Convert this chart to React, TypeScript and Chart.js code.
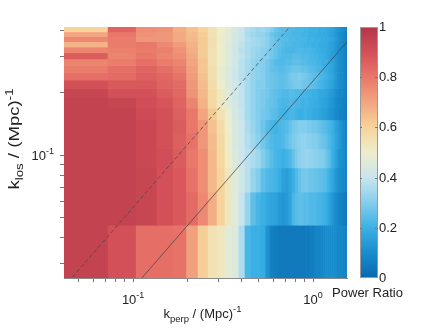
import React, { useEffect, useRef } from "react";
import { Chart, registerables } from "chart.js";

Chart.register(...registerables);

// k_perp bin edges (Mpc^-1), 48 bins
const kPerpEdges = [
  0.041, 0.0723, 0.1036, 0.1349, 0.1662, 0.1975, 0.2288, 0.2601, 0.2914, 0.3227,
  0.354, 0.3853, 0.4166, 0.4479, 0.4792, 0.5105, 0.5418, 0.5731, 0.6044, 0.6357,
  0.667, 0.6983, 0.7296, 0.7609, 0.7922, 0.8235, 0.8548, 0.8861, 0.9174, 0.9487,
  0.98, 1.0113, 1.0426, 1.0739, 1.1052, 1.1365, 1.1678, 1.1991, 1.2304, 1.2617,
  1.293, 1.3243, 1.3556, 1.3869, 1.4182, 1.4495, 1.4808, 1.5121, 1.5434,
];

// k_los bin edges (Mpc^-1), 19 bins
const kLosEdges = [
  0.0255, 0.046, 0.0665, 0.087, 0.1075, 0.128, 0.1485, 0.169, 0.1895, 0.21,
  0.2305, 0.251, 0.2715, 0.292, 0.3125, 0.333, 0.3535, 0.374, 0.3945, 0.415,
];

// power ratio per k_los bin (lowest first), one value per k_perp bin
const ratioRow00 = [0.95,0.9,0.82,0.82,0.81,0.71,0.61,0.55,0.53,0.47,0.45,0.36,0.22,0.2,0.2, 0.19,0.12,0.07,0.06,0.05,0.05,0.05,0.05,0.05,0.05,0.05,0.05,0.05,0.05,0.06,0.06,0.07,0.08,0.08,0.09,0.09,0.1,0.1,0.1,0.1,0.1,0.1,0.09,0.09,0.09,0.08,0.08,0.08];
const ratioRow01 = [0.95,0.95,0.94,0.9,0.88,0.83,0.76,0.68,0.6,0.53,0.46,0.4,0.33,0.25,0.22, 0.2,0.18,0.17,0.16,0.14,0.13,0.14,0.17,0.22,0.24,0.25,0.25,0.24,0.24,0.23,0.23,0.23,0.22,0.22,0.21,0.2,0.19,0.17,0.15,0.13,0.11,0.1,0.09,0.08,0.07,0.06,0.06,0.05];
const ratioRow02 = [0.95,0.95,0.94,0.9,0.88,0.81,0.75,0.66,0.6,0.53,0.46,0.42,0.38,0.33,0.3, 0.25,0.23,0.22,0.21,0.19,0.16,0.15,0.17,0.2,0.23,0.26,0.28,0.28,0.28,0.27,0.27,0.26,0.26,0.25,0.25,0.24,0.23,0.21,0.19,0.17,0.15,0.13,0.12,0.11,0.1,0.09,0.09,0.08];
const ratioRow03 = [0.95,0.95,0.93,0.91,0.87,0.8,0.75,0.66,0.59,0.51,0.45,0.41,0.38,0.36,0.34, 0.3,0.27,0.24,0.22,0.21,0.2,0.21,0.23,0.26,0.29,0.31,0.32,0.33,0.33,0.32,0.32,0.31,0.31,0.3,0.3,0.29,0.27,0.25,0.23,0.2,0.18,0.16,0.14,0.12,0.11,0.1,0.09,0.08];
const ratioRow04 = [0.95,0.95,0.93,0.9,0.86,0.81,0.73,0.65,0.58,0.51,0.44,0.41,0.37,0.34,0.31, 0.28,0.25,0.23,0.22,0.22,0.23,0.25,0.27,0.29,0.3,0.31,0.32,0.32,0.31,0.31,0.3,0.3,0.29,0.28,0.27,0.26,0.25,0.23,0.22,0.2,0.19,0.17,0.15,0.14,0.12,0.1,0.09,0.08];
const ratioRow05 = [0.95,0.95,0.93,0.9,0.87,0.8,0.73,0.64,0.57,0.5,0.44,0.41,0.36,0.33,0.3, 0.27,0.24,0.22,0.21,0.22,0.23,0.24,0.26,0.28,0.29,0.3,0.3,0.3,0.29,0.29,0.28,0.28,0.27,0.26,0.25,0.24,0.23,0.22,0.21,0.2,0.18,0.16,0.15,0.13,0.12,0.1,0.09,0.08];
const ratioRow06 = [0.95,0.95,0.92,0.9,0.86,0.8,0.7,0.62,0.55,0.49,0.43,0.4,0.35,0.32,0.3, 0.28,0.27,0.25,0.24,0.22,0.21,0.21,0.22,0.22,0.21,0.2,0.2,0.21,0.2,0.2,0.19,0.18,0.18,0.17,0.16,0.15,0.14,0.13,0.12,0.11,0.1,0.09,0.09,0.08,0.07,0.07,0.06,0.06];
const ratioRow07 = [0.95,0.94,0.91,0.89,0.85,0.77,0.67,0.58,0.52,0.46,0.43,0.39,0.35,0.32,0.3, 0.29,0.27,0.26,0.25,0.23,0.22,0.22,0.23,0.23,0.22,0.22,0.21,0.21,0.21,0.2,0.2,0.19,0.19,0.18,0.17,0.16,0.15,0.14,0.13,0.12,0.11,0.1,0.09,0.09,0.08,0.07,0.07,0.06];
const ratioRow08 = [0.94,0.9,0.9,0.87,0.84,0.74,0.66,0.58,0.52,0.46,0.42,0.39,0.35,0.32,0.3, 0.29,0.28,0.26,0.25,0.24,0.23,0.23,0.24,0.24,0.23,0.23,0.22,0.22,0.21,0.21,0.2,0.2,0.19,0.18,0.18,0.17,0.16,0.15,0.14,0.13,0.12,0.11,0.1,0.09,0.09,0.08,0.07,0.07];
const ratioRow09 = [0.9,0.88,0.88,0.85,0.83,0.73,0.65,0.57,0.5,0.45,0.42,0.39,0.35,0.32,0.3, 0.3,0.28,0.27,0.26,0.25,0.25,0.26,0.27,0.28,0.29,0.29,0.28,0.27,0.27,0.26,0.25,0.24,0.23,0.22,0.21,0.2,0.19,0.18,0.17,0.16,0.14,0.13,0.12,0.11,0.1,0.09,0.08,0.07];
const ratioRow10 = [0.82,0.83,0.86,0.84,0.81,0.72,0.64,0.56,0.49,0.45,0.41,0.38,0.35,0.33,0.31, 0.3,0.28,0.27,0.26,0.25,0.25,0.26,0.28,0.29,0.29,0.3,0.29,0.28,0.27,0.26,0.25,0.25,0.24,0.23,0.22,0.21,0.2,0.19,0.18,0.17,0.15,0.14,0.12,0.11,0.1,0.09,0.08,0.07];
const ratioRow11 = [0.79,0.82,0.85,0.82,0.79,0.71,0.63,0.56,0.49,0.45,0.41,0.38,0.35,0.33,0.31, 0.3,0.28,0.26,0.25,0.24,0.24,0.25,0.26,0.27,0.27,0.27,0.26,0.26,0.25,0.24,0.24,0.23,0.22,0.22,0.21,0.2,0.19,0.18,0.17,0.16,0.14,0.13,0.12,0.11,0.1,0.09,0.08,0.07];
const ratioRow12 = [0.77,0.79,0.82,0.79,0.77,0.7,0.63,0.55,0.5,0.46,0.42,0.38,0.35,0.33,0.31, 0.3,0.28,0.26,0.24,0.23,0.23,0.24,0.24,0.25,0.25,0.25,0.24,0.24,0.23,0.23,0.22,0.22,0.21,0.21,0.2,0.19,0.19,0.18,0.17,0.16,0.15,0.13,0.12,0.11,0.1,0.09,0.08,0.07];
const ratioRow13 = [0.87,0.77,0.8,0.77,0.75,0.69,0.62,0.55,0.5,0.46,0.42,0.39,0.36,0.34,0.32, 0.31,0.3,0.28,0.26,0.24,0.23,0.23,0.23,0.24,0.24,0.24,0.23,0.23,0.23,0.22,0.22,0.21,0.21,0.2,0.2,0.19,0.18,0.17,0.16,0.15,0.14,0.13,0.12,0.11,0.1,0.09,0.08,0.07];
const ratioRow14 = [0.77,0.78,0.79,0.78,0.74,0.68,0.62,0.55,0.5,0.46,0.42,0.38,0.36,0.34,0.33, 0.31,0.3,0.28,0.26,0.24,0.23,0.22,0.22,0.22,0.23,0.23,0.23,0.22,0.22,0.22,0.21,0.21,0.2,0.2,0.19,0.19,0.18,0.17,0.16,0.15,0.14,0.13,0.12,0.11,0.1,0.09,0.08,0.07];
const ratioRow15 = [0.67,0.79,0.8,0.76,0.72,0.67,0.62,0.56,0.5,0.46,0.42,0.39,0.36,0.35,0.34, 0.33,0.31,0.28,0.26,0.25,0.24,0.23,0.23,0.22,0.22,0.22,0.22,0.21,0.21,0.21,0.2,0.2,0.2,0.19,0.19,0.18,0.18,0.17,0.16,0.15,0.14,0.13,0.12,0.11,0.1,0.09,0.08,0.07];
const ratioRow16 = [0.76,0.79,0.73,0.73,0.69,0.66,0.62,0.56,0.51,0.47,0.43,0.4,0.37,0.35,0.34, 0.33,0.31,0.28,0.26,0.25,0.24,0.24,0.23,0.23,0.22,0.22,0.22,0.22,0.21,0.21,0.21,0.2,0.2,0.2,0.19,0.19,0.18,0.18,0.17,0.16,0.15,0.14,0.13,0.12,0.1,0.09,0.08,0.07];
const ratioRow17 = [0.7,0.8,0.74,0.73,0.69,0.65,0.61,0.55,0.5,0.47,0.43,0.4,0.36,0.34,0.33, 0.32,0.3,0.27,0.25,0.24,0.24,0.23,0.23,0.22,0.22,0.22,0.21,0.21,0.21,0.2,0.2,0.2,0.19,0.19,0.19,0.18,0.18,0.17,0.16,0.15,0.14,0.13,0.12,0.11,0.1,0.09,0.08,0.07];
const ratioRow18 = [0.6,0.85,0.75,0.74,0.68,0.64,0.6,0.55,0.5,0.47,0.44,0.41,0.37,0.35,0.33, 0.34,0.32,0.3,0.27,0.25,0.24,0.24,0.23,0.23,0.22,0.22,0.22,0.21,0.21,0.2,0.2,0.2,0.2,0.19,0.19,0.19,0.18,0.18,0.17,0.16,0.15,0.14,0.13,0.12,0.11,0.1,0.09,0.08];

const powerRatio = [
  ratioRow00, ratioRow01, ratioRow02, ratioRow03, ratioRow04, ratioRow05, ratioRow06,
  ratioRow07, ratioRow08, ratioRow09, ratioRow10, ratioRow11, ratioRow12, ratioRow13,
  ratioRow14, ratioRow15, ratioRow16, ratioRow17, ratioRow18,
];

// axis ranges and ticks
const xRange = [0.0413, 1.5434];
const yRange = [0.0255, 0.415];
const xTickValues = [0.05, 0.06, 0.07, 0.08, 0.09, 0.1, 0.2, 0.3, 0.4, 0.5, 0.6, 0.7, 0.8, 0.9, 1];
const yTickValues = [0.03, 0.04, 0.05, 0.06, 0.07, 0.08, 0.09, 0.1, 0.2, 0.3, 0.4];
const xLabelValues = [0.1, 1];
const xLabelExps = ["-1", "0"];
const yLabelValues = [0.1];
const yLabelExps = ["-1"];
const cbTickValues = [0, 0.2, 0.4, 0.6, 0.8, 1];
const cbTickLabels = ["0", "0.2", "0.4", "0.6", "0.8", "1"];

// wedge / horizon lines (k_perp, k_los end points)
const solidLineKPerp = [0.0413, 1.5434];
const solidLineKLos = [0.00942, 0.3519];
const dashedLineKPerp = [0.0413, 1.5434];
const dashedLineKLos = [0.0231, 0.8643];

// colormap stops (style)
const COLOR_STOPS: [number, number[]][] = [
  [0.0, [10, 104, 174]],
  [0.1, [24, 140, 204]],
  [0.2, [58, 176, 228]],
  [0.3, [132, 206, 237]],
  [0.4, [200, 229, 238]],
  [0.5, [237, 237, 204]],
  [0.6, [246, 212, 155]],
  [0.7, [242, 165, 127]],
  [0.8, [233, 119, 106]],
  [0.9, [212, 80, 88]],
  [1.0, [178, 54, 74]],
];

function ratioColor(v: number): string {
  const t = Math.max(0, Math.min(1, v));
  for (let k = 0; k < COLOR_STOPS.length - 1; k++) {
    const [a, ca] = COLOR_STOPS[k];
    const [b, cb] = COLOR_STOPS[k + 1];
    if (t <= b) {
      const f = (t - a) / (b - a);
      const c = ca.map((x, n) => Math.round(x + (cb[n] - x) * f));
      return `rgb(${c[0]},${c[1]},${c[2]})`;
    }
  }
  const c = COLOR_STOPS[COLOR_STOPS.length - 1][1];
  return `rgb(${c[0]},${c[1]},${c[2]})`;
}

const FONT = "'Liberation Sans', Arial, Helvetica, sans-serif";

type Part = { t: string; size: number; dy: number };

function drawParts(ctx: CanvasRenderingContext2D, parts: Part[], x: number, y: number, align: "left" | "center" | "right") {
  let total = 0;
  const widths = parts.map((p) => {
    ctx.font = `${p.size}px ${FONT}`;
    const w = ctx.measureText(p.t).width;
    total += w;
    return w;
  });
  let cx = align === "left" ? x : align === "center" ? x - total / 2 : x - total;
  ctx.textAlign = "left";
  ctx.textBaseline = "alphabetic";
  parts.forEach((p, k) => {
    ctx.font = `${p.size}px ${FONT}`;
    ctx.fillText(p.t, cx, y + p.dy);
    cx += widths[k];
  });
}

const heatmapPlugin = {
  id: "heatmap",
  beforeDatasetsDraw(chart: any) {
    const { ctx, chartArea, scales } = chart;
    const xs = scales.x;
    const ys = scales.y;
    ctx.save();
    ctx.beginPath();
    ctx.rect(chartArea.left, chartArea.top, chartArea.right - chartArea.left, chartArea.bottom - chartArea.top);
    ctx.clip();
    for (let j = 0; j < powerRatio.length; j++) {
      const row = powerRatio[j];
      const yTop = ys.getPixelForValue(kLosEdges[j + 1]);
      const yBot = ys.getPixelForValue(kLosEdges[j]);
      for (let i = 0; i < row.length; i++) {
        const x0 = xs.getPixelForValue(kPerpEdges[i]);
        const x1 = xs.getPixelForValue(kPerpEdges[i + 1]);
        ctx.fillStyle = ratioColor(row[i]);
        ctx.fillRect(x0, yTop, x1 - x0 + 0.6, yBot - yTop + 0.6);
      }
    }
    ctx.restore();
  },
  afterDraw(chart: any) {
    const { ctx, chartArea, scales } = chart;
    const xs = scales.x;
    const ys = scales.y;
    const cbs = scales.cb;
    ctx.save();
    ctx.fillStyle = "#222";
    // tick labels
    xLabelValues.forEach((v, k) => {
      const px = xs.getPixelForValue(v);
      drawParts(ctx, [
        { t: "10", size: 13, dy: 0 },
        { t: xLabelExps[k], size: 9, dy: -6 },
      ], px, chartArea.bottom + 26, "center");
    });
    yLabelValues.forEach((v, k) => {
      const py = ys.getPixelForValue(v);
      drawParts(ctx, [
        { t: "10", size: 13, dy: 0 },
        { t: yLabelExps[k], size: 9, dy: -6 },
      ], chartArea.left - 10, py + 5, "right");
    });
    // x title
    drawParts(ctx, [
      { t: "k", size: 13, dy: 0 },
      { t: "perp", size: 9.5, dy: 4 },
      { t: " / (Mpc)", size: 13, dy: 0 },
      { t: "-1", size: 9.5, dy: -6 },
    ], (chartArea.left + chartArea.right) / 2 - 3, chartArea.bottom + 40, "center");
    // y title (stretched along its length like the reference)
    ctx.save();
    ctx.translate(19, 139);
    ctx.rotate(-Math.PI / 2);
    ctx.scale(1.33, 1);
    drawParts(ctx, [
      { t: "k", size: 14, dy: 0 },
      { t: "los", size: 10, dy: 4 },
      { t: " / (Mpc)", size: 14, dy: 0 },
      { t: "-1", size: 10, dy: -6.5 },
    ], 0, 0, "center");
    ctx.restore();

    // colorbar
    const cbLeft = chartArea.right + 13;
    const cbWidth = 18;
    const yb = cbs.getPixelForValue(0);
    const yt = cbs.getPixelForValue(1);
    const grad = ctx.createLinearGradient(0, yb, 0, yt);
    COLOR_STOPS.forEach(([v, c]) => grad.addColorStop(v, `rgb(${c[0]},${c[1]},${c[2]})`));
    ctx.fillStyle = grad;
    ctx.fillRect(cbLeft, yt, cbWidth, yb - yt);
    ctx.strokeStyle = "#9a9a9a";
    ctx.lineWidth = 1;
    ctx.strokeRect(cbLeft + 0.5, yt + 0.5, cbWidth - 1, yb - yt - 1);
    ctx.strokeStyle = "#777";
    cbTickValues.forEach((v, k) => {
      const py = Math.round(cbs.getPixelForValue(v)) + 0.5;
      if (k > 0 && k < cbTickValues.length - 1) {
        ctx.beginPath();
        ctx.moveTo(cbLeft + cbWidth - 3, py);
        ctx.lineTo(cbLeft + cbWidth, py);
        ctx.moveTo(cbLeft, py);
        ctx.lineTo(cbLeft + 2, py);
        ctx.stroke();
      }
      ctx.fillStyle = "#222";
      ctx.font = `13px ${FONT}`;
      ctx.textAlign = "left";
      ctx.textBaseline = "middle";
      ctx.fillText(cbTickLabels[k], cbLeft + cbWidth + 1, py);
    });
    ctx.fillStyle = "#222";
    ctx.font = `13px ${FONT}`;
    ctx.textAlign = "center";
    ctx.textBaseline = "alphabetic";
    ctx.fillText("Power Ratio", cbLeft + cbWidth / 2 - 1.5, chartArea.bottom + 19);
    ctx.restore();
  },
};

export default function App() {
  const ref = useRef<HTMLCanvasElement>(null);
  useEffect(() => {
    const canvas = ref.current;
    if (!canvas) return;
    const axisGrid = {
      display: true,
      drawOnChartArea: false,
      drawTicks: true,
      tickLength: 4,
      tickColor: "#777",
      tickWidth: 1,
    };
    const chart = new Chart(canvas, {
      type: "line",
      data: {
        datasets: [
          {
            label: "solid",
            data: solidLineKPerp.map((x, k) => ({ x, y: solidLineKLos[k] })),
            borderColor: "rgba(70,70,70,0.85)",
            borderWidth: 0.9,
            pointRadius: 0,
            fill: false,
          },
          {
            label: "dashed",
            data: dashedLineKPerp.map((x, k) => ({ x, y: dashedLineKLos[k] })),
            borderColor: "rgba(70,70,70,0.85)",
            borderWidth: 0.9,
            borderDash: [4, 2.5],
            pointRadius: 0,
            fill: false,
          },
        ],
      },
      options: {
        responsive: false,
        animation: false,
        events: [],
        layout: { padding: { left: 0, top: 27, right: 89, bottom: 0 } },
        plugins: {
          legend: { display: false },
          tooltip: { enabled: false },
          title: { display: false },
        },
        scales: {
          x: {
            type: "logarithmic",
            position: "bottom",
            min: xRange[0],
            max: xRange[1],
            z: 1,
            afterBuildTicks: (s: any) => {
              s.ticks = xTickValues.map((v) => ({ value: v }));
            },
            afterFit: (s: any) => {
              s.height = 51;
            },
            ticks: { display: false },
            grid: axisGrid,
            border: { display: true, color: "#8a8a8a", width: 1 },
          },
          y: {
            type: "logarithmic",
            position: "left",
            min: yRange[0],
            max: yRange[1],
            z: 1,
            afterBuildTicks: (s: any) => {
              s.ticks = yTickValues.map((v) => ({ value: v }));
            },
            afterFit: (s: any) => {
              s.width = 64;
            },
            ticks: { display: false },
            grid: axisGrid,
            border: { display: true, color: "#8a8a8a", width: 1 },
          },
          cb: {
            type: "linear",
            position: "right",
            min: 0,
            max: 1,
            display: false,
          },
        },
      } as any,
      plugins: [heatmapPlugin],
    });
    return () => chart.destroy();
  }, []);
  return (
    <div style={{ position: "fixed", left: 0, top: 0, width: 436, height: 329, background: "#fff" }}>
      <canvas ref={ref} width={436} height={329} style={{ display: "block", width: 436, height: 329 }} />
    </div>
  );
}
